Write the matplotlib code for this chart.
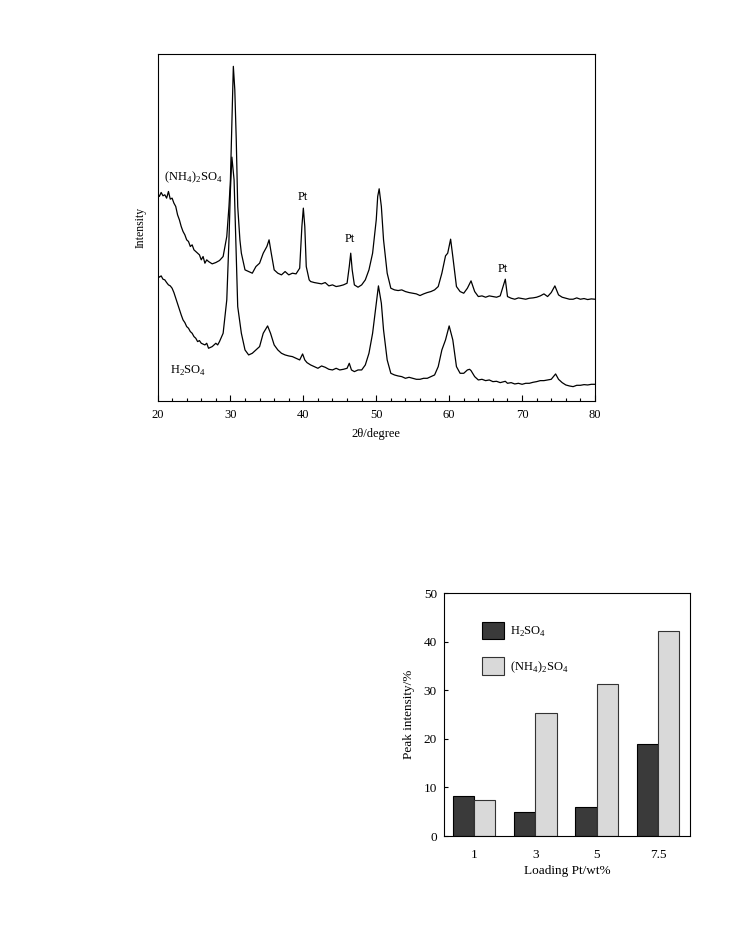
import numpy as np
import matplotlib
matplotlib.use("Agg")
import matplotlib.pyplot as plt

plt.rcParams['font.family'] = ['Liberation Serif', 'DejaVu Serif']
plt.rcParams['mathtext.fontset'] = 'custom'
plt.rcParams['mathtext.rm'] = 'Liberation Serif'

# XRD patterns (2theta in degree, intensity in arbitrary units)
two_theta_nh4 = [20.0, 20.25, 20.5, 20.75, 21.0, 21.25, 21.5, 21.75, 22.0, 22.25, 22.5, 22.75,
                 23.0, 23.25, 23.5, 23.75, 24.0, 24.25, 24.5, 24.75, 25.0, 25.5, 25.75, 26.0,
                 26.25, 26.5, 26.75, 27.0, 27.5, 28.0, 28.5, 29.0, 29.5, 29.8, 30.0, 30.2,
                 30.4, 30.6, 30.8, 31.0, 31.3, 31.5, 32.0, 32.5, 33.0, 33.5, 34.0, 34.5,
                 35.0, 35.3, 35.6, 36.0, 36.5, 37.0, 37.5, 38.0, 38.5, 39.0, 39.5, 39.8,
                 40.0, 40.2, 40.4, 40.8, 41.0, 41.5, 42.0, 42.5, 43.0, 43.5, 44.0, 44.5,
                 45.0, 45.5, 46.0, 46.3, 46.5, 46.7, 47.0, 47.5, 48.0, 48.5, 49.0, 49.5,
                 50.0, 50.2, 50.4, 50.7, 51.0, 51.5, 52.0, 52.5, 53.0, 53.5, 54.0, 54.5,
                 55.0, 55.5, 56.0, 56.5, 57.0, 57.5, 58.0, 58.5, 59.0, 59.5, 59.8, 60.2,
                 60.5, 61.0, 61.5, 62.0, 62.5, 63.0, 63.5, 64.0, 64.5, 65.0, 65.5, 66.0,
                 66.5, 67.0, 67.4, 67.7, 68.0, 68.5, 69.0, 69.5, 70.0, 70.5, 71.0, 71.5,
                 72.0, 72.5, 73.0, 73.5, 74.0, 74.5, 75.0, 75.5, 76.0, 76.5, 77.0, 77.5,
                 78.0, 78.5, 79.0, 79.5, 80.0]
intensity_nh4 = [623, 613, 625, 615, 618, 608, 628, 605, 608, 593, 583, 558,
                 543, 523, 508, 498, 483, 478, 463, 468, 453, 443, 438, 423,
                 433, 413, 423, 418, 411, 415, 421, 433, 493, 583, 663, 833,
                 1003, 933, 783, 583, 483, 443, 393, 388, 383, 403, 413, 443,
                 463, 483, 443, 393, 383, 378, 388, 378, 383, 381, 398, 523,
                 578, 523, 403, 363, 358, 355, 353, 351, 355, 345, 348, 343,
                 345, 348, 353, 403, 443, 393, 348, 341, 348, 363, 393, 443,
                 543, 613, 636, 583, 483, 383, 338, 333, 331, 333, 328, 325,
                 323, 321, 316, 321, 325, 328, 333, 343, 383, 435, 443, 485,
                 433, 343, 328, 323, 338, 360, 328, 313, 315, 311, 315, 313,
                 311, 315, 343, 365, 313, 308, 305, 309, 307, 305, 308, 309,
                 311, 315, 321, 313, 325, 345, 318, 311, 308, 305, 305, 309,
                 305, 307, 304, 306, 305]

two_theta_h2so4 = [20.0, 20.25, 20.5, 20.75, 21.0, 21.25, 21.5, 21.75, 22.0, 22.25, 22.5, 22.75,
                   23.0, 23.25, 23.5, 23.75, 24.0, 24.25, 24.5, 24.75, 25.0, 25.25, 25.5, 25.75,
                   26.0, 26.5, 26.75, 27.0, 27.5, 28.0, 28.25, 28.5, 29.0, 29.5, 29.8, 30.0,
                   30.2, 30.5, 30.8, 31.0, 31.5, 32.0, 32.5, 33.0, 33.5, 34.0, 34.5, 35.1,
                   35.5, 36.0, 36.5, 37.0, 37.5, 38.0, 38.5, 39.0, 39.5, 39.9, 40.2, 40.5,
                   41.0, 41.5, 42.0, 42.5, 43.0, 43.5, 44.0, 44.5, 45.0, 45.5, 46.0, 46.3,
                   46.6, 47.0, 47.5, 48.0, 48.5, 49.0, 49.5, 50.0, 50.3, 50.7, 51.0, 51.5,
                   52.0, 52.5, 53.0, 53.5, 54.0, 54.5, 55.0, 55.5, 56.0, 56.5, 57.0, 57.5,
                   58.0, 58.5, 59.0, 59.5, 60.0, 60.5, 61.0, 61.5, 62.0, 62.5, 62.8, 63.0,
                   63.5, 64.0, 64.5, 65.0, 65.5, 66.0, 66.5, 67.0, 67.7, 68.0, 68.5, 69.0,
                   69.5, 70.0, 70.5, 71.0, 71.5, 72.0, 72.5, 73.0, 73.5, 74.0, 74.6, 75.0,
                   75.5, 76.0, 76.5, 77.0, 77.5, 78.0, 78.5, 79.0, 79.5, 80.0]
intensity_h2so4 = [378, 371, 375, 365, 363, 355, 348, 345, 338, 325, 308, 291,
                   273, 258, 243, 235, 223, 218, 208, 203, 193, 188, 178, 181,
                   173, 168, 173, 158, 163, 173, 168, 178, 203, 303, 483, 633,
                   731, 663, 433, 283, 203, 153, 138, 143, 153, 163, 203, 225,
                   203, 168, 153, 143, 138, 135, 133, 128, 123, 141, 123, 115,
                   108, 103, 98, 105, 101, 95, 93, 98, 93, 95, 98, 113,
                   93, 88, 93, 93, 108, 143, 203, 293, 345, 293, 213, 123,
                   83, 78, 75, 73, 68, 71, 68, 65, 65, 68, 68, 73,
                   78, 103, 153, 183, 225, 183, 103, 83, 83, 93, 95, 91,
                   73, 63, 65, 61, 63, 58, 59, 55, 59, 53, 55, 51,
                   53, 50, 53, 53, 56, 58, 61, 61, 63, 65, 81, 65,
                   55, 48, 45, 43, 47, 47, 49, 48, 50, 50]

# Pt peak intensity vs. Pt loading
loading_labels = ['1', '3', '5', '7.5']
peak_h2so4 = [8.2, 4.9, 6.0, 19.0]
peak_nh4 = [7.4, 25.3, 31.2, 42.1]

fig = plt.figure(figsize=(7.35, 9.36), dpi=100)

# ---- top: XRD patterns
ax1 = fig.add_axes([0.2143, 0.5716, 0.5952, 0.3707])
ax1.plot(two_theta_nh4, intensity_nh4, color='black', lw=0.9)
ax1.plot(two_theta_h2so4, intensity_h2so4, color='black', lw=0.9)
ax1.set_xlim(20, 80)
ax1.set_ylim(0, 1040)
ax1.set_xticks(np.arange(20, 81, 10))
ax1.set_xticks(np.arange(20, 81, 2), minor=True)
ax1.set_yticks([])
ax1.tick_params(axis='x', which='major', direction='in', length=4.3, width=0.8,
                labelsize=9, pad=6, top=False)
ax1.tick_params(axis='x', which='minor', direction='in', length=2.4, width=0.8, top=False)
for s in ax1.spines.values():
    s.set_linewidth(0.8)
ax1.set_xlabel('2θ/degree', fontsize=9, labelpad=5)
ax1.set_ylabel('Intensity', fontsize=8.5, labelpad=8)

ax1.text(20.87, 670, r'(NH$_4$)$_2$SO$_4$', fontsize=9, va='center', ha='left')
ax1.text(21.7, 90, r'H$_2$SO$_4$', fontsize=9, va='center', ha='left')
ax1.text(40.0, 610, 'Pt', fontsize=9, ha='center', va='center')
ax1.text(46.4, 486, 'Pt', fontsize=9, ha='center', va='center')
ax1.text(67.4, 395, 'Pt', fontsize=9, ha='center', va='center')

# ---- bottom: bar chart
ax2 = fig.add_axes([0.604, 0.1068, 0.3347, 0.2596])
x = np.arange(len(loading_labels))
w = 0.346
ax2.bar(x - w / 2, peak_h2so4, w, color='#3a3a3a', edgecolor='black', lw=0.8,
        label=r'H$_2$SO$_4$')
ax2.bar(x + w / 2, peak_nh4, w, color='#d9d9d9', edgecolor='#333333', lw=0.8,
        label=r'(NH$_4$)$_2$SO$_4$')
ax2.set_xlim(-0.49, 3.52)
ax2.set_ylim(0, 50)
ax2.set_yticks(np.arange(0, 51, 10))
ax2.set_xticks(x)
ax2.set_xticklabels(loading_labels)
ax2.tick_params(axis='y', direction='in', length=3, width=0.8, labelsize=9.5, pad=5)
ax2.tick_params(axis='x', length=0, labelsize=9.5, pad=9)
for s in ax2.spines.values():
    s.set_linewidth(0.8)
ax2.set_xlabel('Loading Pt/wt%', fontsize=9.5, labelpad=3)
ax2.set_ylabel('Peak intensity/%', fontsize=9.5, labelpad=6)
ax2.legend(loc='upper left', bbox_to_anchor=(0.129, 0.907), frameon=False, fontsize=9,
           borderpad=0, handlelength=1.75, handleheight=1.75, handletextpad=0.5,
           labelspacing=1.45)

fig.savefig('out.png', dpi=100)
